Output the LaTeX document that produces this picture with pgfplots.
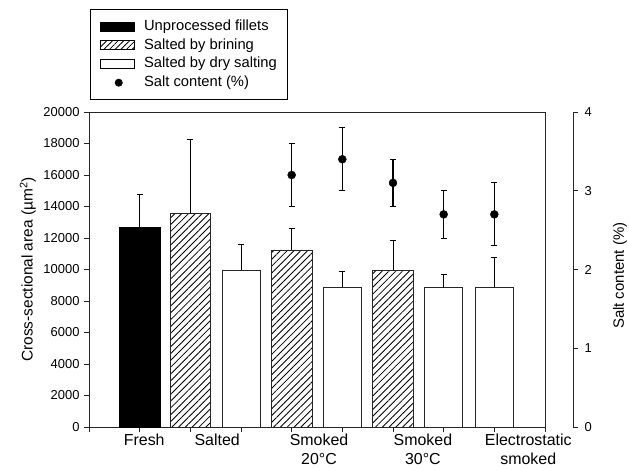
\documentclass[border=0pt]{standalone}
\usepackage{pgfplots}
\pgfplotsset{compat=1.18}
\usetikzlibrary{patterns.meta}
\usepackage{fontspec}
\setmainfont{Liberation Sans}
\pgfplotsset{
  hatch/.style={fill=white, postaction={pattern={Lines[angle=45,distance=4.8bp,line width=0.85bp]}}},
  swatch/.style={legend image code/.code={\draw[##1] (0bp,-4.5bp) rectangle (34bp,4.5bp); \path (43bp,0bp);}},
  dotleg/.style={legend image code/.code={\draw[##1] plot coordinates {(18bp,0bp)}; \path (0bp,0bp) (43bp,0bp);}},
}
\begin{document}
\begin{tikzpicture}
\path[use as bounding box] (0bp,0bp) rectangle (629bp,-470bp);
\begin{axis}[
  at={(89bp,-427bp)}, anchor=south west, scale only axis,
  width=456bp, height=315bp,
  xmin=0, xmax=9, ymin=0, ymax=20000,
  xtick={0,...,9}, xticklabels={},
  ytick={0,2000,...,20000}, scaled y ticks=false,
  tick align=outside, xtick pos=bottom, ytick pos=left,
  major tick length=5bp,
  axis line style={black!85, line width=0.8bp},
  every tick/.style={black!85, line width=0.8bp},
  /pgf/number format/1000 sep={},
  /pgf/number format/assume math mode=true,
  y tick label style={font=\fontsize{13}{13}\selectfont, xshift=-1bp},
  ylabel={Cross-sectional area (µm\textsuperscript{2})},
  every axis y label/.style={at={(axis description cs:-0.134,0.5)}, anchor=center, rotate=90, font=\fontsize{15.5}{16}\selectfont},
  extra x ticks={1.09,2.53,4.54,6.59,8.67},
  extra x tick labels={Fresh, Salted, {Smoked\\20°C}, {Smoked\\30°C}, {Electrostatic\\smoked}},
  extra x tick style={major tick length=0pt, tick label style={align=center, font=\fontsize{16}{19.5}\selectfont, yshift=-3bp}},
  ybar, bar shift=0pt,
  error bars/error bar style={black, line width=0.8bp},
  error bars/error mark options={rotate=90, black, mark size=3bp, line width=0.8bp},
]
\addplot[bar width=0.81, fill=black, draw=black,
  error bars/.cd, y dir=plus, y explicit]
  coordinates {(1,12700) +- (0,2060)};
\addplot[bar width=0.8, draw=black!85, line width=0.7bp, hatch,
  error bars/.cd, y dir=plus, y explicit]
  coordinates {(2,13540) +- (0,4690) (4,11240) +- (0,1390) (6,9960) +- (0,1890)};
\addplot[bar width=0.75, draw=black!85, line width=0.7bp, fill=white,
  error bars/.cd, y dir=plus, y explicit]
  coordinates {(3,9960) +- (0,1620) (5,8880) +- (0,1020) (7,8840) +- (0,850) (8,8860) +- (0,1940)};
\end{axis}
\begin{axis}[
  at={(89bp,-427bp)}, anchor=south west, scale only axis,
  width=484bp, height=315bp,
  xmin=0, xmax=9.55263, ymin=0, ymax=4,
  axis x line=none, axis y line*=right,
  ytick={0,1,2,3,4},
  tick align=outside, major tick length=5bp,
  axis line style={black!85, line width=0.8bp},
  every tick/.style={black!85, line width=0.8bp},
  /pgf/number format/assume math mode=true,
  y tick label style={font=\fontsize{13}{13}\selectfont, xshift=3bp},
  ylabel={Salt content (\%)},
  every axis y label/.style={at={(axis description cs:1.097,0.48)}, anchor=center, rotate=90, font=\fontsize{15}{16}\selectfont},
  legend style={at={(axis description cs:0,1)}, anchor=south west, xshift=1bp, yshift=12bp,
    draw=black, line width=0.7bp, font=\fontsize{14.8}{16}\selectfont,
    inner xsep=10bp, inner ysep=7.6bp, row sep=0bp,
    nodes={inner xsep=0bp, inner ysep=2.4bp, text height=10.8bp, text depth=3.1bp}},
  legend cell align=left,
]
\addlegendimage{fill=black, draw=black, swatch}
\addlegendentry{Unprocessed fillets}
\addlegendimage{draw=black, line width=0.7bp, fill=white, postaction={pattern={Lines[angle=45,distance=4bp,line width=0.8bp]}}, swatch}
\addlegendentry{Salted by brining}
\addlegendimage{draw=black, line width=0.7bp, fill=white, swatch}
\addlegendentry{Salted by dry salting}
\addlegendimage{only marks, mark=*, mark size=3.6bp, black, dotleg}
\addlegendentry{Salt content (\%)}
\addplot[only marks, mark=*, mark size=4bp, black,
  error bars/.cd, y dir=both, y explicit,
  error bar style={black, line width=1.1bp},
  error mark options={rotate=90, black, mark size=3bp, line width=1bp}]
  coordinates {(4,3.2) +- (0,0.4) (5,3.4) +- (0,0.4) (6,3.1) +- (0,0.3) (7,2.7) +- (0,0.3) (8,2.7) +- (0,0.4)};
\end{axis}
\end{tikzpicture}
\end{document}
